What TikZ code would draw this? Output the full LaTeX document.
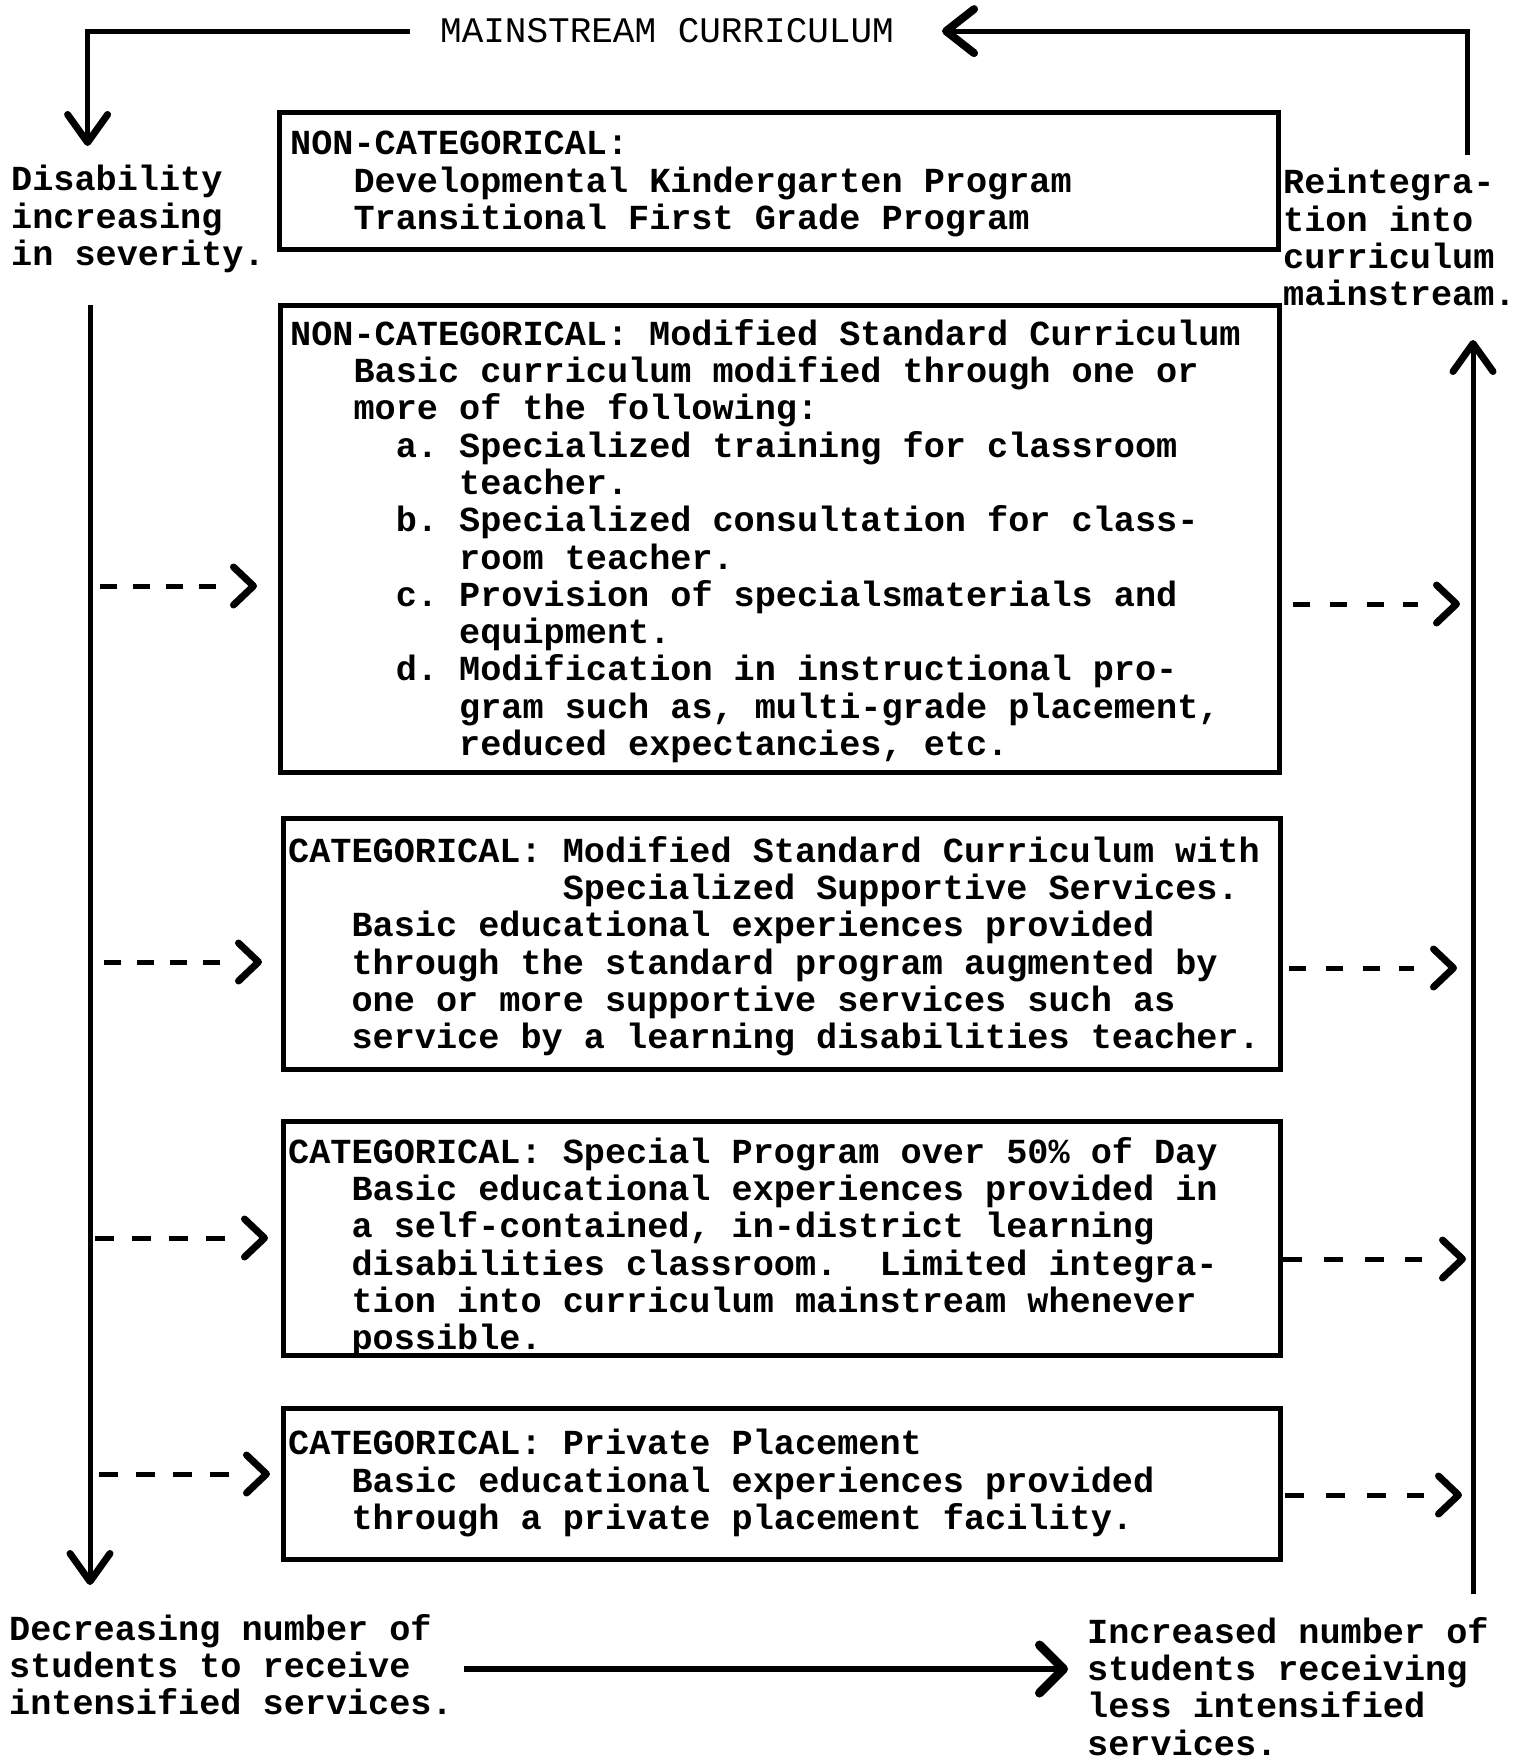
\documentclass[tikz,border=0pt]{standalone}
\usepackage{fontspec}
\setmainfont{Liberation Mono}
\usetikzlibrary{arrows.meta,calc}
\frenchspacing
\begin{document}
\begin{tikzpicture}[x=1pt,y=-1pt,
  tw/.style={font=\fontsize{35.2}{37.3}\selectfont\bfseries, inner sep=0pt, anchor=north west, align=left},
  boxn/.style={draw, line width=5pt, inner sep=0pt, anchor=north west},
  conn/.style={line width=5pt},
  arr/.style={-{Straight Barb[length=28pt,width=40pt,line width=7pt,round]}},
  bigarr/.style={-{Straight Barb[length=24pt,width=48pt,line width=9pt,round]}},
  toparr/.style={-{Straight Barb[length=28pt,width=44pt,line width=8pt,round]}},
  dtip/.style={line width=5pt, -{Straight Barb[length=20pt,width=38pt,line width=7pt,round]}},
  ldash/.style={dtip, dash pattern=on 17pt off 16pt on 17pt off 16pt on 17pt off 16pt on 17pt off 300pt},
  ldashl/.style={dtip, dash pattern=on 19pt off 18pt on 19pt off 18pt on 19pt off 18pt on 19pt off 300pt},
  rdash/.style={dtip, dash pattern=on 17pt off 20pt on 17pt off 20pt on 17pt off 19pt on 15pt off 300pt},
  rdashl/.style={dtip, dash pattern=on 19pt off 22pt on 19pt off 22pt on 19pt off 21pt on 17pt off 300pt}
]
\fill[white] (0,0) rectangle (1530,1760);
\useasboundingbox (0,0) rectangle (1530,1760);

% title
\node[font=\fontsize{36}{38}\selectfont, inner ysep=0pt, inner xsep=30pt, anchor=base] (title) at (667,43) {MAINSTREAM CURRICULUM};

% boxes
\node[boxn, minimum width=999pt, minimum height=137pt] (b1) at (277,110) {};
\node[boxn, minimum width=999pt, minimum height=467pt] (b2) at (278,303) {};
\node[boxn, minimum width=997pt, minimum height=251pt] (b3) at (281,816) {};
\node[boxn, minimum width=997pt, minimum height=234pt] (b4) at (281,1119) {};
\node[boxn, minimum width=997pt, minimum height=151pt] (b5) at (281,1406) {};

% box texts
\node[tw] (t1) at (290,131) {NON-CATEGORICAL:\\
~~~Developmental Kindergarten Program\\
~~~Transitional First Grade Program};

\node[tw] (t2) at (290,319) {NON-CATEGORICAL: Modified Standard Curriculum\\
~~~Basic curriculum modified through one or\\
~~~more of the following:\\
~~~~~a. Specialized training for classroom\\
~~~~~~~~teacher.\\
~~~~~b. Specialized consultation for class-\\
~~~~~~~~room teacher.\\
~~~~~c. Provision of specialsmaterials and\\
~~~~~~~~equipment.\\
~~~~~d. Modification in instructional pro-\\
~~~~~~~~gram such as, multi-grade placement,\\
~~~~~~~~reduced expectancies, etc.};

\node[tw] (t3) at (288,836) {CATEGORICAL: Modified Standard Curriculum with\\
~~~~~~~~~~~~~Specialized Supportive Services.\\
~~~Basic educational experiences provided\\
~~~through the standard program augmented by\\
~~~one or more supportive services such as\\
~~~service by a learning disabilities teacher.};

\node[tw] (t4) at (288,1137) {CATEGORICAL: Special Program over 50\% of Day\\
~~~Basic educational experiences provided in\\
~~~a self-contained, in-district learning\\
~~~disabilities classroom.~ Limited integra-\\
~~~tion into curriculum mainstream whenever\\
~~~possible.};

\node[tw] (t5) at (288,1429) {CATEGORICAL: Private Placement\\
~~~Basic educational experiences provided\\
~~~through a private placement facility.};

% side labels
\node[tw] (dis) at (11,165) {Disability\\increasing\\in severity.};
\node[tw] (rein) at (1283,168) {Reintegra-\\tion into\\curriculum\\mainstream.};
\node[tw] (dec) at (9,1614) {Decreasing number of\\students to receive\\intensified services.};
\node[tw] (inc) at (1087,1617) {Increased number of\\students receiving\\less intensified\\services.};

% coordinates
\coordinate (ldn) at (87.6,146);
\coordinate (rup) at (1467,155);
\coordinate (lvtop) at (90,305);
\coordinate (lvbot) at (90,1585);
\coordinate (rvbot) at (1473,1594);
\coordinate (rvtop) at (1473,340);
\coordinate (bl) at (464,1669);
\coordinate (br) at (1068,1669);

% top loop
\draw[conn, arr] (title.west) -| (ldn);
\draw[conn, toparr] (rup) |- ([xshift=18pt]title.east);

% verticals
\draw[conn, arr] (lvtop) -- (lvbot);
\draw[conn, arr] (rvbot) -- (rvtop);

% bottom arrow
\draw[line width=5.5pt, bigarr] (bl) -- (br);

% dashed arrows left
\coordinate (la1) at (100,586);  \coordinate (lb1) at (257,586);
\coordinate (la2) at (104,962);  \coordinate (lb2) at (262,962);
\coordinate (la3) at (95,1238);  \coordinate (lb3) at (268,1238);
\coordinate (la4) at (99,1474);  \coordinate (lb4) at (270,1474);
\draw[ldash] (la1) -- (lb1);
\draw[ldash] (la2) -- (lb2);
\draw[ldashl] (la3) -- (lb3);
\draw[ldashl] (la4) -- (lb4);

% dashed arrows right
\coordinate (ra1) at (1293,604);  \coordinate (rb1) at (1460,604);
\coordinate (ra2) at (1289,968);  \coordinate (rb2) at (1457,968);
\coordinate (ra3) at (1283,1259); \coordinate (rb3) at (1466,1259);
\coordinate (ra4) at (1285,1495); \coordinate (rb4) at (1462,1495);
\draw[rdash] (ra1) -- (rb1);
\draw[rdash] (ra2) -- (rb2);
\draw[rdashl] (ra3) -- (rb3);
\draw[rdashl] (ra4) -- (rb4);
\end{tikzpicture}
\end{document}
